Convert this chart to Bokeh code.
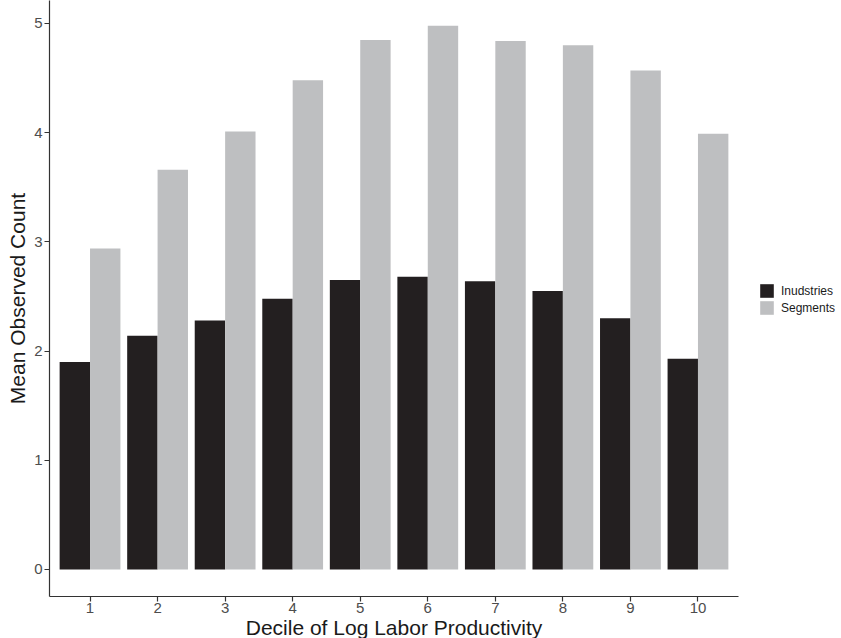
from bokeh.plotting import figure
from bokeh.models import Range1d, Legend, LegendItem, ColumnDataSource, FixedTicker
from bokeh.transform import dodge
from bokeh.embed import file_html
from bokeh.resources import INLINE

deciles = [1, 2, 3, 4, 5, 6, 7, 8, 9, 10]
industries = [1.90, 2.14, 2.28, 2.48, 2.65, 2.68, 2.64, 2.55, 2.30, 1.93]
segments = [2.94, 3.66, 4.01, 4.48, 4.85, 4.98, 4.84, 4.80, 4.57, 3.99]
series_labels = ["Inudstries", "Segments"]
series_colors = ["#231F20", "#BEBFC1"]
y_ticks = [0, 1, 2, 3, 4, 5]

src = ColumnDataSource(dict(decile=deciles, industries=industries, segments=segments))

FONT = "Liberation Sans"

p = figure(frame_width=689, frame_height=596, output_backend="svg", toolbar_location=None,
           x_range=Range1d(0.4, 10.6), y_range=Range1d(-0.2473, 5.2106),
           min_border_left=49, min_border_right=103, min_border_top=0, min_border_bottom=42)

r1 = p.vbar(x=dodge("decile", -0.225, range=p.x_range), top="industries", width=0.45,
            source=src, fill_color=series_colors[0], line_color=None)
r2 = p.vbar(x=dodge("decile", 0.225, range=p.x_range), top="segments", width=0.45,
            source=src, fill_color=series_colors[1], line_color=None)

p.xgrid.visible = False
p.ygrid.visible = False
p.outline_line_color = None
p.background_fill_color = "white"
p.border_fill_color = "white"

for ax in (p.xaxis[0], p.yaxis[0]):
    ax.axis_line_color = "#333333"
    ax.axis_line_width = 1.2
    ax.major_tick_line_color = "#333333"
    ax.major_tick_line_width = 1.2
    ax.major_tick_out = 5
    ax.major_tick_in = 0
    ax.minor_tick_line_color = None
    ax.major_label_text_font = FONT
    ax.major_label_text_font_size = "15px"
    ax.major_label_text_color = "#4D4D4D"
    ax.axis_label_text_font = FONT
    ax.axis_label_text_font_size = "21px"
    ax.axis_label_text_font_style = "normal"
    ax.axis_label_text_color = "#1A1A1A"

p.xaxis.major_label_standoff = 1
p.xaxis.axis_label_standoff = 0
p.yaxis.major_label_standoff = 2
p.yaxis.axis_label_standoff = 2

p.xaxis.ticker = FixedTicker(ticks=deciles)
p.yaxis.ticker = FixedTicker(ticks=y_ticks)
p.xaxis.axis_label = "Decile of Log Labor Productivity"
p.yaxis.axis_label = "Mean Observed Count"

legend = Legend(items=[LegendItem(label=series_labels[0], renderers=[r1]),
                       LegendItem(label=series_labels[1], renderers=[r2])],
                location=(20, 280), orientation="vertical")
legend.margin = 0
legend.padding = 0
legend.spacing = 0
legend.glyph_width = 17
legend.glyph_height = 17
legend.label_height = 17
legend.label_standoff = 6
legend.label_text_font = FONT
legend.label_text_font_size = "12px"
legend.label_text_color = "#1A1A1A"
legend.border_line_color = None
legend.background_fill_alpha = 0
p.add_layout(legend, "right")

open("out.html", "w").write(file_html(p, INLINE))
